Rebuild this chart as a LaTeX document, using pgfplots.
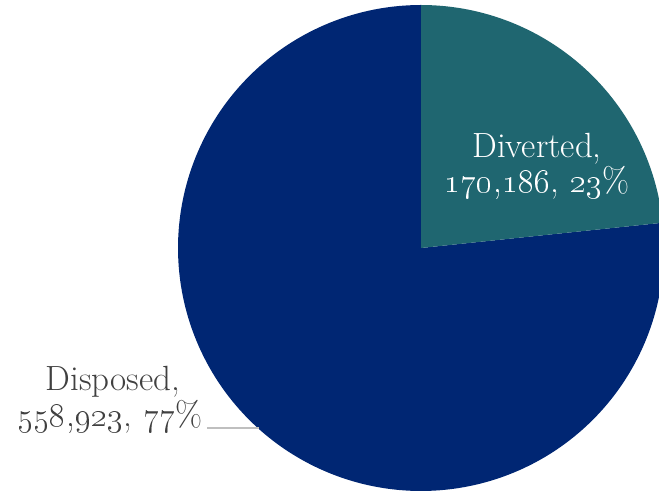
\documentclass[border=0pt]{standalone}
\usepackage{pgfplots}
\pgfplotsset{compat=1.18}
\usepackage{pgfplotstable}
\definecolor{divteal}{HTML}{1F6670}
\definecolor{dispnavy}{HTML}{002673}
\definecolor{labgray}{HTML}{404040}
\pgfplotstableread{
label value
Diverted 170186
Disposed 558923
}\piedata
\pgfplotstablegetelem{0}{value}\of\piedata \let\vA\pgfplotsretval
\pgfplotstablegetelem{1}{value}\of\piedata \let\vB\pgfplotsretval
\edef\angA{\fpeval{360*\vA/(\vA+\vB)}}
\edef\endA{\fpeval{90-\angA}}
\edef\endB{\fpeval{90-360}}
\begin{document}
\begin{tikzpicture}
\begin{axis}[
  scale only axis, width=329.5pt, height=246pt,
  xmin=0, xmax=659, ymin=0, ymax=492,
  hide axis, clip=true,
]
\path (rel axis cs:0,0) rectangle (rel axis cs:1,1);
% Disposed slice
\addplot[fill=dispnavy, draw=none, domain=\endB:\endA, samples=200, variable=\t]
  ({421+243*cos(t)},{244+243*sin(t)}) -- (axis cs:421,244) -- cycle;
% Diverted slice
\addplot[fill=divteal, draw=none, domain=\endA:90, samples=120, variable=\t]
  ({421+243*cos(t)},{244+243*sin(t)}) -- (axis cs:421,244) -- cycle;
% leader line
\addplot[draw=black!25, line width=0.6pt] coordinates {(207,64) (259,64)};
\fontsize{17.5}{21}\selectfont
\node[anchor=base, text=white, inner sep=0pt] at (axis cs:537,334) {Diverted,};
\node[anchor=base, text=white, inner sep=0pt] at (axis cs:537,299) {\oldstylenums{170,186}, \oldstylenums{23}\%};
\node[anchor=base, text=labgray, inner sep=0pt] at (axis cs:113,101) {Disposed,};
\node[anchor=base, text=labgray, inner sep=0pt] at (axis cs:110,65) {\oldstylenums{558,923}, \oldstylenums{77}\%};
\end{axis}
\end{tikzpicture}
\end{document}
